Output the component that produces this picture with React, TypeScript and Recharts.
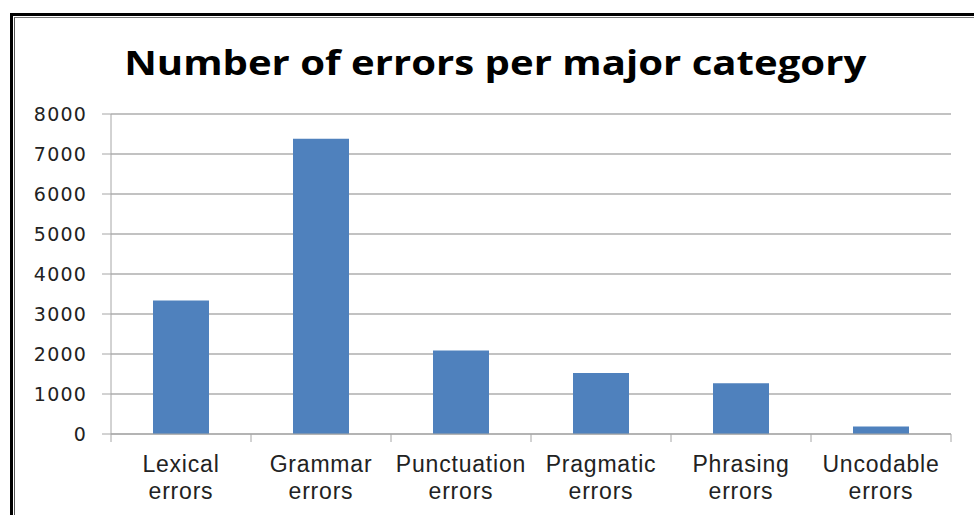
import React from "react";
import { BarChart, Bar, XAxis, YAxis, CartesianGrid } from "recharts";

const categories = [
  "Lexical errors",
  "Grammar errors",
  "Punctuation errors",
  "Pragmatic errors",
  "Phrasing errors",
  "Uncodable errors",
];
const errorCounts = [3340, 7380, 2085, 1525, 1270, 185];
const yTicks = [0, 1000, 2000, 3000, 4000, 5000, 6000, 7000, 8000];

const data = categories.map((name, i) => ({ name, count: errorCounts[i] }));

const AXIS = "#a6a6a6";
const GRID = "#858585";

function CategoryTick(props: any) {
  const { x, y, payload, index } = props;
  const half = payload.offset ?? 70;
  const words = String(payload.value).split(" ");
  const font = {
    fontFamily: "'Liberation Sans', Arial, sans-serif",
    fontSize: 23,
    letterSpacing: 0.8,
    fill: "#222",
  };
  return (
    <g>
      <line x1={x - half} y1={y} x2={x - half} y2={y + 8} stroke={AXIS} />
      {index === categories.length - 1 && (
        <line x1={x + half} y1={y} x2={x + half} y2={y + 8} stroke={AXIS} />
      )}
      <text x={x} y={y + 38} textAnchor="middle" {...font}>
        {words[0]}
      </text>
      <text x={x} y={y + 65} textAnchor="middle" {...font}>
        {words[1]}
      </text>
    </g>
  );
}

export default function App() {
  return (
    <div
      style={{
        position: "fixed",
        left: 0,
        top: 0,
        width: 974,
        height: 515,
        background: "#fff",
        overflow: "hidden",
      }}
    >
      <div
        style={{
          position: "absolute",
          left: 10,
          top: 13,
          right: -10,
          bottom: -10,
          borderLeft: "3px solid #000",
          borderTop: "3px solid #000",
        }}
      />
      <div
        style={{
          position: "absolute",
          left: 14,
          top: 17,
          right: -10,
          bottom: -10,
          borderLeft: "1px solid #555",
          borderTop: "1px solid #777",
        }}
      />
      <div style={{ position: "absolute", left: 0, top: 0 }}>
        <BarChart
          width={974}
          height={515}
          data={data}
          margin={{ top: 114, right: 23, left: 0, bottom: 11 }}
          barCategoryGap="30%"
        >
          <CartesianGrid stroke={GRID} vertical={false} />
          <XAxis
            dataKey="name"
            height={70}
            interval={0}
            tickSize={0}
            tickMargin={0}
            tickLine={false}
            stroke={AXIS}
            tick={<CategoryTick />}
          />
          <YAxis
            width={111}
            domain={[0, 8000]}
            ticks={yTicks}
            interval={0}
            tickSize={9}
            tickMargin={15}
            stroke={AXIS}
            tick={{
              fill: "#222",
              fontSize: 19,
              letterSpacing: 1.2,
              fontFamily: "'DejaVu Sans', Verdana, sans-serif",
            }}
          />
          <Bar dataKey="count" fill="#4F81BD" isAnimationActive={false} />
        </BarChart>
      </div>
      <div
        style={{
          position: "absolute",
          left: 10,
          top: 45,
          width: 974,
          textAlign: "center",
          fontFamily: "'Open Sans', sans-serif",
          fontWeight: 700,
          fontSize: 34,
          lineHeight: "34px",
          color: "#000",
          whiteSpace: "nowrap",
          transform: "scaleX(1.18)",
          transformOrigin: "497px 0",
        }}
      >
        Number of errors per major category
      </div>
    </div>
  );
}
